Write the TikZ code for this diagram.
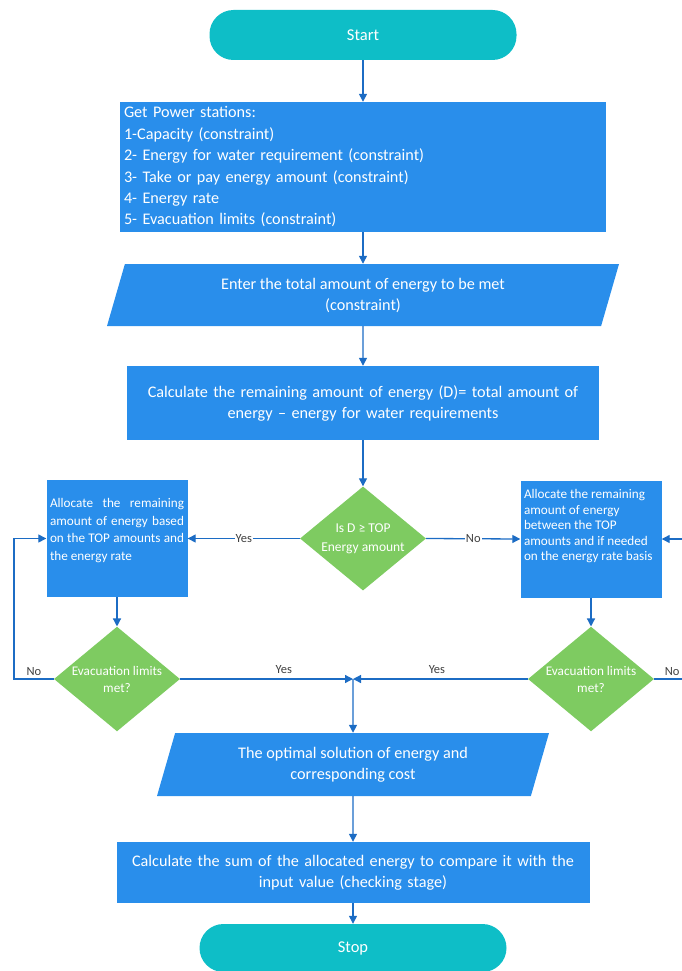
\documentclass[tikz,border=0pt]{standalone}
\usepackage{fontspec}
\setmainfont{Carlito}
\usetikzlibrary{shapes.geometric,arrows.meta}
\definecolor{boxblue}{RGB}{41,142,235}
\definecolor{decgreen}{RGB}{126,203,97}
\definecolor{termteal}{RGB}{14,190,199}
\definecolor{linkblue}{RGB}{28,108,196}
\definecolor{labelgray}{RGB}{64,64,64}

\begin{document}
\begin{tikzpicture}[x=1pt,y=-1pt,>={Triangle[length=8pt,width=8pt]},
  term node/.style={rectangle,rounded corners=24pt,fill=termteal,text=white,minimum width=307pt,font=\fontsize{16.5}{19}\selectfont},
  proc node/.style={rectangle,fill=boxblue,text=white,inner sep=4pt,font=\fontsize{16.2}{21}\selectfont},
  io node/.style={trapezium,trapezium left angle=66.5,trapezium right angle=113.5,trapezium stretches body,fill=boxblue,text=white,align=center,font=\fontsize{16.2}{21}\selectfont},
  side node/.style={rectangle,fill=boxblue,text=white,inner sep=0pt,minimum width=141pt,minimum height=117pt},
  dec node/.style={diamond,fill=decgreen,text=white,inner sep=-3pt,minimum width=126pt,minimum height=104pt,align=center},
  lbl/.style={text=labelgray,inner sep=1pt,font=\fontsize{12.5}{14}\selectfont},
  link/.style={draw=linkblue,line width=1.3pt}]
  \useasboundingbox (0,0) rectangle (682,971);

  % main column
  \node[term node, minimum height=50pt] (start) at (363,35) {Start};
  \node[proc node, minimum width=486pt, minimum height=130pt, text width=478pt, align=left, font=\fontsize{16.2}{21.4}\selectfont] (get) at (363,167)
    {Get Power stations:\\1-Capacity (constraint)\\2- Energy for water requirement (constraint)\\3- Take or pay energy amount (constraint)\\4- Energy rate\\5- Evacuation limits (constraint)};
  \node[io node, minimum width=512pt, minimum height=62pt] (inp) at (363,295)
    {Enter the total amount of energy to be met\\(constraint)};
  \node[proc node, minimum width=472pt, minimum height=74pt, text width=464pt, align=center] (calc) at (363,403)
    {Calculate the remaining amount of energy (D)= total amount of\\energy -- energy for water requirements};
  \node[dec node, font=\fontsize{13.5}{19}\selectfont] (dec) at (363,538.5) {Is D ≥ TOP\\Energy amount};

  % two branches
  \node[side node, font=\fontsize{13.2}{17.5}\selectfont] (lbox) at (117,538.5)
    {\parbox[c][117pt][c]{134pt}{Allocate the remaining\linebreak amount of energy based\linebreak on the TOP amounts and\linebreak the energy rate\par\vspace{16pt}}};
  \node[side node, font=\fontsize{13.2}{15.5}\selectfont] (rbox) at (591,539)
    {\parbox[c][117pt][c]{134pt}{\raggedright Allocate the remaining\\amount of energy\\between the TOP\\amounts and if needed\\on the energy rate basis\par\vspace{25pt}}};
  \node[dec node, font=\fontsize{13.2}{17}\selectfont] (ev1) at (117,679) {Evacuation limits\\met?};
  \node[dec node, font=\fontsize{13.2}{17}\selectfont] (ev2) at (591,679) {Evacuation limits\\met?};
  \coordinate (join) at (353,679);
  \coordinate (loopL) at (14,679);
  \coordinate (loopR) at (695,679);

  % lower column
  \node[io node, minimum width=392pt, minimum height=63pt] (out) at (353,764.5)
    {The optimal solution of energy and\\corresponding cost};
  \node[proc node, minimum width=473pt, minimum height=61pt, text width=465pt, align=center] (chk) at (353,872.5)
    {Calculate the sum of the allocated energy to compare it with the\\input value (checking stage)};
  \node[term node, minimum height=48pt] (stop) at (353,948) {Stop};

  \path[every edge/.style={link,->}]
    (start) edge (get)
    (get) edge (inp)
    (inp) edge (calc)
    (calc) edge (dec)
    (dec.west) edge node[lbl,fill=white] {Yes} (lbox.east)
    (dec.east) edge node[lbl,fill=white] {No} (rbox.west)
    (lbox) edge (ev1)
    (rbox) edge (ev2)
    (ev1.east) edge node[lbl,above=4pt,pos=0.6] {Yes} (join)
    (ev2.west) edge node[lbl,above=4pt,pos=0.52] {Yes} (join)
    (join) edge (out.north)
    (out) edge (chk)
    (chk) edge (stop);
  \draw[link,->] (ev1.west) -- node[lbl,above=2pt] {No} (loopL) |- (lbox.west);
  \draw[link,->] (ev2.east) -- node[lbl,above=2pt,pos=0.44] {No} (loopR) |- (rbox.east);
\end{tikzpicture}
\end{document}
